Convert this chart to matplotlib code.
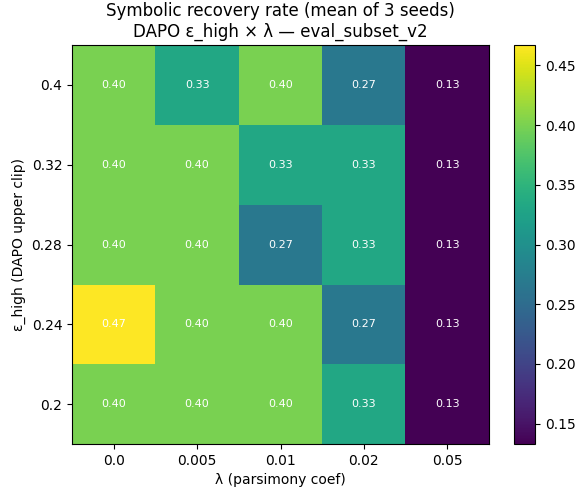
import numpy as np
import matplotlib
matplotlib.use("Agg")
import matplotlib.pyplot as plt

lambdas = ["0.0", "0.005", "0.01", "0.02", "0.05"]
eps_high = ["0.2", "0.24", "0.28", "0.32", "0.4"]

# rows go bottom -> top (eps 0.2 ... 0.4)
recovery = np.array([
    [0.400, 0.400, 0.400, 0.333, 0.133],  # 0.2
    [0.467, 0.400, 0.400, 0.267, 0.133],  # 0.24
    [0.400, 0.400, 0.267, 0.333, 0.133],  # 0.28
    [0.400, 0.400, 0.333, 0.333, 0.133],  # 0.32
    [0.400, 0.333, 0.400, 0.267, 0.133],  # 0.4
])

fig = plt.figure(figsize=(5.77, 4.91), dpi=100)
ax = fig.add_axes([0.1248, 0.0957, 0.7227, 0.8126])
cax = fig.add_axes([0.8908, 0.0957, 0.0364, 0.8126])

im = ax.imshow(recovery, cmap="viridis", origin="lower", aspect="auto")
for i in range(len(eps_high)):
    for j in range(len(lambdas)):
        ax.text(j, i, f"{recovery[i, j]:.2f}", ha="center", va="center",
                color="white", fontsize=8)

ax.set_xticks(range(len(lambdas)))
ax.set_xticklabels(lambdas)
ax.set_yticks(range(len(eps_high)))
ax.set_yticklabels(eps_high)
ax.set_xlabel("λ (parsimony coef)")
ax.set_ylabel("ε_high (DAPO upper clip)")
ax.set_title("Symbolic recovery rate (mean of 3 seeds)\nDAPO ε_high × λ — eval_subset_v2")

fig.colorbar(im, cax=cax)

fig.savefig("out.png", dpi=100)
